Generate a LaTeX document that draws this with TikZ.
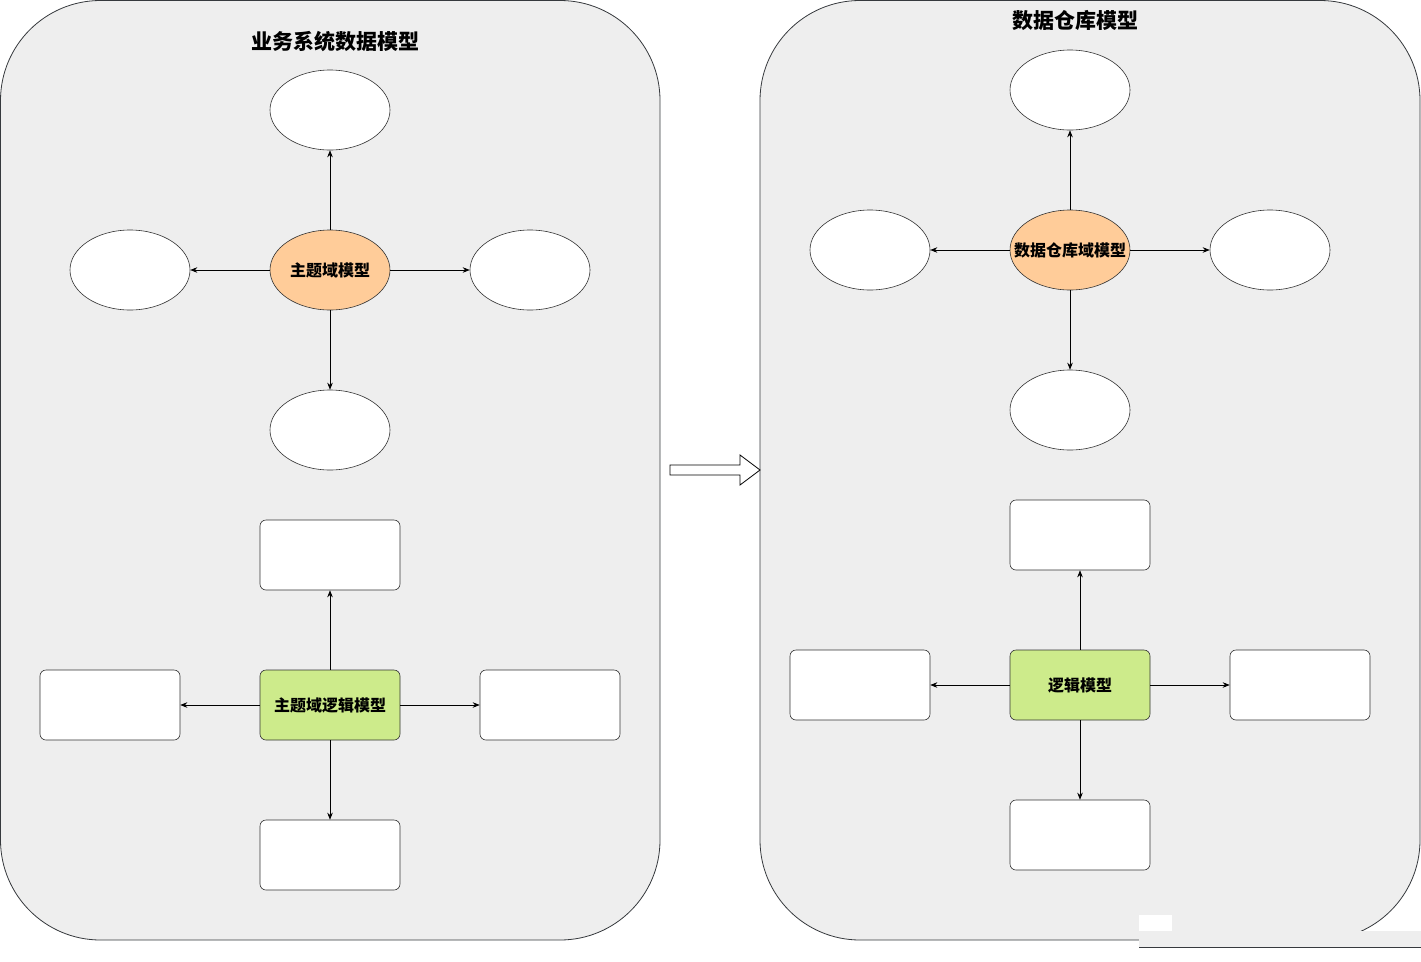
\documentclass[tikz,border=0pt]{standalone}
\usepackage{fontspec}
\setmainfont{Noto Sans CJK SC}
\usetikzlibrary{arrows.meta,positioning,shapes.geometric}
\definecolor{panelfill}{HTML}{EEEEEE}
\definecolor{panelline}{HTML}{36393D}
\definecolor{orangefill}{HTML}{FFCC99}
\definecolor{greenfill}{HTML}{CDEB8B}
\begin{document}
\begin{tikzpicture}[
			x=1pt,y=-1pt,
			panel/.style={draw=panelline,fill=panelfill,rounded corners=100pt,line width=0.8pt},
			oval/.style={ellipse,draw=black!80,fill=white,minimum width=120pt,minimum height=80pt,inner sep=0pt,line width=0.6pt},
			box/.style={rectangle,draw=black!80,fill=white,rounded corners=6pt,minimum width=140pt,minimum height=70pt,inner sep=0pt,line width=0.6pt},
			core/.style={font=\bfseries\fontsize{16}{18}\selectfont,inner xsep=-16pt},
			link/.style={-{Stealth[length=7pt,width=5.5pt]},line width=0.6pt},
			]
			\useasboundingbox (0,0) rectangle (1421,961);
			\draw [panel] (0.5,0.5) rectangle (660,940);
			\draw [panel] (760,0.5) rectangle (1420,940);
			% leftover strip at the lower right
			\fill [white] (1139,915) rectangle (1172,931);
			\fill [panelfill] (1139,931) rectangle (1421,947);
			\draw [panelline,line width=0.8pt] (1139,947) -- (1421,947);
			\node [font=\bfseries\fontsize{21}{23}\selectfont] (ltitle) at (335,41) {业务系统数据模型};
			\node [font=\bfseries\fontsize{21}{23}\selectfont] (rtitle) at (1075,21) {数据仓库模型};
			% left side
			\node [oval,fill=orangefill,core] (lsub) at (330,270) {主题域模型};
			\node [oval] (lsubn) at (330,110) {};
			\node [oval] (lsubw) at (130,270) {};
			\node [oval] (lsube) at (530,270) {};
			\node [oval] (lsubs) at (330,430) {};
			\node [box,fill=greenfill,core,inner xsep=0pt] (llog) at (330,705) {主题域逻辑模型};
			\node [box] (llogn) at (330,555) {};
			\node [box] (llogw) at (110,705) {};
			\node [box] (lloge) at (550,705) {};
			\node [box] (llogs) at (330,855) {};
			% right side
			\node [oval,fill=orangefill,core] (rsub) at (1070,250) {数据仓库域模型};
			\node [oval] (rsubn) at (1070,90) {};
			\node [oval] (rsubw) at (870,250) {};
			\node [oval] (rsube) at (1270,250) {};
			\node [oval] (rsubs) at (1070,410) {};
			\node [box,fill=greenfill,core,inner xsep=0pt] (rlog) at (1080,685) {逻辑模型};
			\node [box] (rlogn) at (1080,535) {};
			\node [box] (rlogw) at (860,685) {};
			\node [box] (rloge) at (1300,685) {};
			\node [box] (rlogs) at (1080,835) {};
			\foreach \c in {lsub,llog,rsub,rlog}
				\foreach \d in {n,w,e,s}
					\draw [link] (\c) -- (\c\d);
			% block arrow between the panels
			\draw [line width=0.8pt,fill=white] (670,465) -- (740,465) -- (740,455) -- (760,470)
				-- (740,485) -- (740,475) -- (670,475) -- cycle;
		\end{tikzpicture}
\end{document}
